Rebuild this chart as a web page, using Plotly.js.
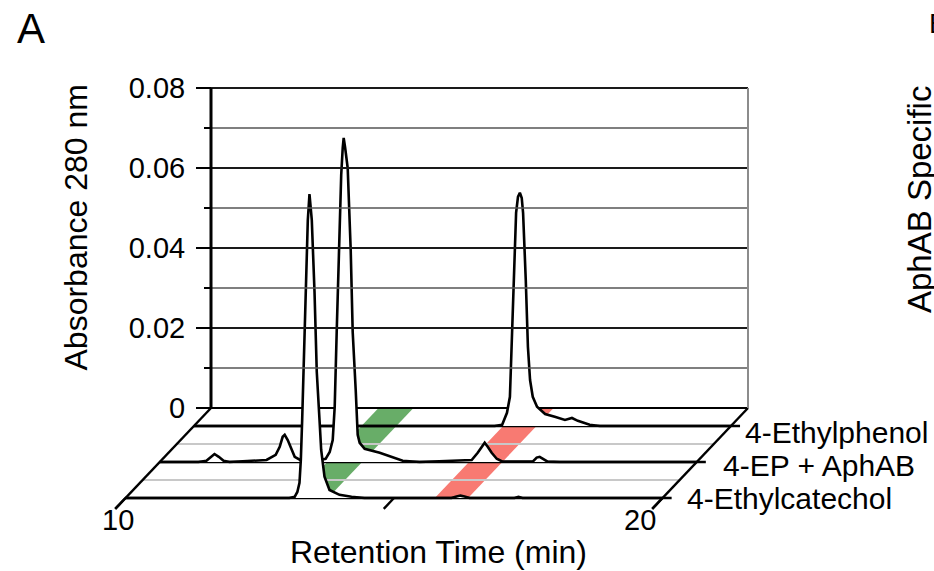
<!DOCTYPE html>
<html><head><meta charset="utf-8">
<script src="https://cdn.plot.ly/plotly-3.0.1.min.js"></script>
<style>html,body{margin:0;padding:0;background:#fff;} #chart{width:934px;height:571px;}</style>
</head><body><div id="chart"></div>
<script>
// ---------------- data ----------------
const seriesNames = ['4-Ethylphenol', '4-EP + AphAB', '4-Ethylcatechol'];

const rtEthylphenol = [10.0, 15.60, 15.74, 15.83, 15.885, 15.92, 15.96, 16.00, 16.035, 16.07, 16.105, 16.13, 16.18, 16.22, 16.26, 16.31, 16.39, 16.54, 16.72, 16.91, 17.04, 17.15, 17.37, 17.56, 20.0];
const absEthylphenol = [0, 0, 0.0003, 0.0033, 0.0073, 0.0198, 0.0365, 0.0533, 0.0573, 0.0583, 0.0570, 0.0533, 0.0365, 0.0198, 0.0115, 0.0073, 0.0048, 0.0030, 0.0023, 0.0015, 0.0020, 0.0013, 0.0003, 0, 0];

const rtAphAB = [10.0, 10.72, 10.87, 10.95, 11.02, 11.10, 11.19, 11.30, 11.99, 12.16, 12.235, 12.29, 12.328, 12.384, 12.458, 12.514, 12.607, 12.98, 13.09, 13.166, 13.222, 13.259, 13.296, 13.333, 13.38, 13.408, 13.426, 13.454, 13.501, 13.557, 13.594, 13.65, 13.668, 13.687, 13.724, 13.817, 14.097, 14.283, 14.525, 14.84, 15.81, 15.922, 15.996, 16.052, 16.108, 16.182, 16.276, 16.387, 16.946, 17.02, 17.076, 17.132, 17.225, 17.45, 20.0];
const absAphAB = [0, 0, 0.0003, 0.0013, 0.0020, 0.0013, 0.0003, 0, 0.0005, 0.0018, 0.0038, 0.0063, 0.0068, 0.0055, 0.0030, 0.0013, 0.0006, 0.0005, 0.0008, 0.0025, 0.0055, 0.0138, 0.0325, 0.0530, 0.0718, 0.0785, 0.0810, 0.0785, 0.0735, 0.0530, 0.0325, 0.0180, 0.0138, 0.0068, 0.0048, 0.0033, 0.0023, 0.0015, 0.0003, 0, 0.0005, 0.0023, 0.0038, 0.0048, 0.0038, 0.0023, 0.0008, 0.0001, 0.0001, 0.0011, 0.0013, 0.0008, 0.0001, 0, 0];

const rtEthylcatechol = [10.0, 13.05, 13.15, 13.20, 13.24, 13.265, 13.29, 13.315, 13.352, 13.395, 13.426, 13.469, 13.52, 13.562, 13.613, 13.644, 13.706, 13.799, 13.985, 14.209, 14.45, 16.07, 16.164, 16.238, 16.313, 16.406, 17.244, 17.318, 17.393, 20.0];
const absEthylcatechol = [0, 0, 0.0003, 0.0015, 0.0038, 0.0095, 0.0195, 0.0315, 0.0515, 0.0695, 0.0760, 0.0695, 0.0515, 0.0315, 0.0195, 0.0120, 0.0053, 0.0020, 0.0008, 0.0003, 0, 0, 0.0004, 0.0006, 0.0004, 0, 0, 0.0003, 0, 0];

const catecholBand = [13.12, 13.77];   // retention-time window (min)
const phenolBand = [15.76, 16.38];

const yTickVals = [0, 0.02, 0.04, 0.06, 0.08];
const yTickText = ['0', '0.02', '0.04', '0.06', '0.08'];
const yMinorVals = [0.01, 0.03, 0.05, 0.07];
const yGridVals = [0.01, 0.02, 0.03, 0.04, 0.05, 0.06, 0.07, 0.08];
const xTickVals = [10, 15, 20];
const xTickText = ['10', '', '20'];

// ---------------- layout constants ----------------
const W = 934, H = 571;
const T0 = 10, T1 = 20, AMAX = 0.08;
const PX_PER_MIN = 53.7, PX_PER_AU = 4000;
const WALL_LEFT_PX = 211, WALL_BASE_PX = 408;
const DEPTH_T = -85.5 / PX_PER_MIN;   // oblique shift of the floor (min per unit depth)
const DEPTH_A = -90 / PX_PER_AU;      // (AU per unit depth)
const rowDepth = [0.2, 0.6, 1.0];
const floorGrayDepth = [0.4, 0.8];
const TICK_DEPTH = 1.12;
const ROW_TICK_T = 0.17;
const seriesLabelShift = [[12, -6], [24, -3], [22, 0]];
const xTickLabelShift = [[-8, -22], [0, -22], [-23, -22]];
const FONT = 'Liberation Sans, Arial, Helvetica, sans-serif';
const GREEN = '#68ad68', RED = '#f87a72';

const xRange = [T0 - WALL_LEFT_PX / PX_PER_MIN, T0 + (W - WALL_LEFT_PX) / PX_PER_MIN];
const yRange = [-(H - WALL_BASE_PX) / PX_PER_AU, WALL_BASE_PX / PX_PER_AU];

function projT(t, d) { return t + d * DEPTH_T; }
function projA(a, d) { return a + d * DEPTH_A; }

const traces = [];
function lineTrace(segs, color, width) {
  const x = [], y = [];
  segs.forEach(s => { x.push(s[0], s[2], null); y.push(s[1], s[3], null); });
  traces.push({type: 'scatter', mode: 'lines', x, y, line: {color, width}, hoverinfo: 'skip', showlegend: false, connectgaps: false});
}
function band(rng, color) {
  const t = [rng[0], rng[1], rng[1], rng[0], rng[0]];
  const d = [0, 0, 1, 1, 0];
  traces.push({type: 'scatter', mode: 'lines', x: t.map((v, i) => projT(v, d[i])), y: d.map(v => projA(0, v)),
    fill: 'toself', fillcolor: color, line: {width: 0, color: color}, hoverinfo: 'skip', showlegend: false});
}

// bands on the floor
band(catecholBand, GREEN);
band(phenolBand, RED);

// floor lines
lineTrace(floorGrayDepth.map(d => [projT(T0, d), projA(0, d), projT(T1, d), projA(0, d)]), '#c8c8c8', 2);
lineTrace([[T0, 0, T1, 0]], '#000', 2.2);
lineTrace(rowDepth.map(d => [projT(T0, d), projA(0, d), projT(T1 + ROW_TICK_T, d), projA(0, d)]), '#000', 2.6);
lineTrace([T0, T1].map(t => [projT(t, 0), projA(0, 0), projT(t, TICK_DEPTH), projA(0, TICK_DEPTH)]), '#000', 2.4);
lineTrace(xTickVals.map(t => [projT(t, 1), projA(0, 1), projT(t, TICK_DEPTH), projA(0, TICK_DEPTH)]), '#000', 2.4);

// chromatograms, back to front
const rt = [rtEthylphenol, rtAphAB, rtEthylcatechol];
const ab = [absEthylphenol, absAphAB, absEthylcatechol];
for (let i = 0; i < 3; i++) {
  const d = rowDepth[i];
  traces.push({type: 'scatter', mode: 'lines', name: seriesNames[i],
    x: rt[i].map(t => projT(t, d)), y: ab[i].map(a => projA(a, d)),
    fill: 'toself', fillcolor: '#ffffff', line: {color: '#000', width: 2.6},
    hoverinfo: 'skip', showlegend: false});
}

// back wall grid
lineTrace(yGridVals.filter(v => Math.round(v * 100) % 2 === 0).map(v => [T0, v, T1, v]), '#1a1a1a', 1.8);
lineTrace(yGridVals.filter(v => Math.round(v * 100) % 2 === 1).map(v => [T0, v, T1, v]), '#555', 1.5);
lineTrace([[T1, 0, T1, AMAX]], '#8c8c8c', 2);
lineTrace([[T0, 0, T0, AMAX]], '#000', 3);

const ann = [];
function paperAnn(text, px, py, size, extra) {
  ann.push(Object.assign({xref: 'paper', yref: 'paper', x: px / W, y: 1 - py / H, text, showarrow: false,
    font: {family: FONT, size, color: '#000'}}, extra || {}));
}
paperAnn('A', 15, 3, 42, {xanchor: 'left', yanchor: 'top'});
paperAnn('B', 927, 6, 28, {xanchor: 'left', yanchor: 'top'});
paperAnn('AphAB Specific', 919, 200, 33, {xanchor: 'center', yanchor: 'middle', textangle: -90});
paperAnn('Absorbance 280 nm', 75, 227.5, 32, {xanchor: 'center', yanchor: 'middle', textangle: -90});
paperAnn('Retention Time (min)', 438.5, 552, 32, {xanchor: 'center', yanchor: 'middle'});

xTickVals.forEach((t, i) => {
  if (!xTickText[i]) return;
  ann.push({xref: 'x', yref: 'y', x: projT(t, 1), y: projA(0, 1), text: xTickText[i], showarrow: false,
    xanchor: 'center', yanchor: 'middle', xshift: xTickLabelShift[i][0], yshift: xTickLabelShift[i][1],
    font: {family: FONT, size: 29, color: '#000'}});
});
seriesNames.forEach((s, i) => {
  const d = rowDepth[i];
  ann.push({xref: 'x', yref: 'y', x: projT(T1, d), y: projA(0, d), text: s, showarrow: false,
    xanchor: 'left', yanchor: 'middle', xshift: seriesLabelShift[i][0], yshift: seriesLabelShift[i][1],
    font: {family: FONT, size: 30, color: '#000'}});
});

const layout = {
  width: W, height: H, autosize: false,
  margin: {l: 0, r: 0, t: 0, b: 0, pad: 0},
  paper_bgcolor: '#fff', plot_bgcolor: '#fff', showlegend: false,
  xaxis: {range: xRange, visible: false, fixedrange: true},
  yaxis: {range: yRange, anchor: 'free', position: WALL_LEFT_PX / W, showgrid: false, zeroline: false, showline: false,
    ticks: 'outside', ticklen: 15, tickwidth: 2, tickcolor: '#000', tickmode: 'array',
    tickvals: yTickVals, ticktext: yTickText, ticklabelstandoff: 5,
    tickfont: {family: FONT, size: 29, color: '#000'},
    minor: {tickmode: 'array', tickvals: yMinorVals, ticks: 'outside', ticklen: 7, tickwidth: 2, tickcolor: '#000', showgrid: false},
    fixedrange: true},
  annotations: ann
};

Plotly.newPlot('chart', traces, layout, {staticPlot: true, displayModeBar: false});
</script>
</body></html>
